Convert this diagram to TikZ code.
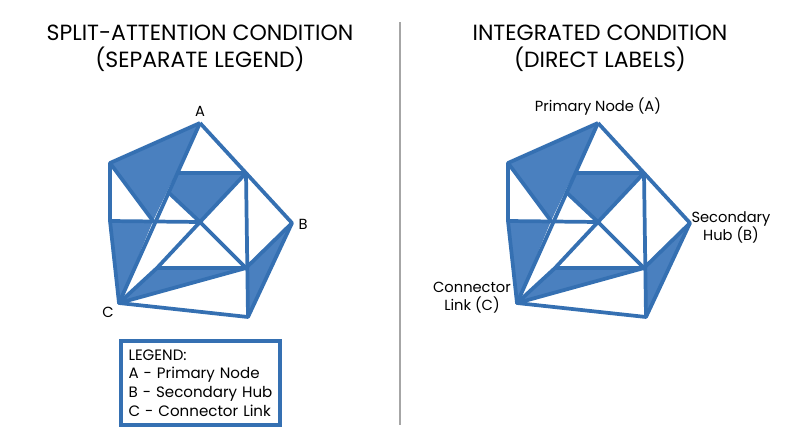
\documentclass[tikz,border=0pt]{standalone}
\usepackage{fontspec}
\setmainfont{Poppins}
\usepackage{tikz}
\usepackage{xcolor}
\definecolor{netblue}{HTML}{3570B2}
\definecolor{netfill}{HTML}{4A80BF}
\newcommand{\netpic}{%
  \coordinate (A) at (200,123);
  \coordinate (P) at (110,163);
  \coordinate (Q) at (177,173);
  \coordinate (R) at (246,173);
  \coordinate (B) at (292,223);
  \coordinate (L) at (110,221);
  \coordinate (X) at (153,221);
  \coordinate (M) at (200,222);
  \coordinate (S) at (168,192);
  \coordinate (T) at (157,268);
  \coordinate (U) at (246,268);
  \coordinate (C) at (119,303);
  \coordinate (D) at (248,317);
  \fill[netfill] (P) -- (A) -- (X) -- cycle;
  \fill[netfill] (Q) -- (R) -- (M) -- (S) -- cycle;
  \fill[netfill] (L) -- (X) -- (C) -- cycle;
  \fill[netfill] (C) -- (T) -- (U) -- cycle;
  \fill[netfill] (U) -- (B) -- (D) -- cycle;
  \draw[net] (A) -- (P) -- (L) -- (C) -- (D) -- (B) -- (R) -- (A);
  \draw[net] (A) -- (C);
  \draw[net] (P) -- (X);
  \draw[net] (L) -- (M);
  \draw[net] (Q) -- (R) -- (D);
  \draw[net] (S) -- (M) -- (U) -- (B);
  \draw[net] (R) -- (M) -- (T) -- (U) -- (C) -- (T);
}
\begin{document}
\begin{tikzpicture}[x=0.75pt,y=-0.75pt,
    net/.style={draw=netblue, line width=2.8pt, line join=round},
    title/.style={align=center, font=\fontsize{16.5}{20}\selectfont},
    lbl/.style={font=\fontsize{11}{13.5}\selectfont, inner sep=1pt}]
  \useasboundingbox (0,0) rectangle (800,447);
  \node[title] (lefttitle) at (200,48) {SPLIT-ATTENTION CONDITION\\(SEPARATE LEGEND)};
  \node[title] (righttitle) at (600,48) {INTEGRATED CONDITION\\(DIRECT LABELS)};
  \coordinate (divtop) at (400,22);
  \coordinate (divbot) at (400,425);
  \draw[gray!70, line width=1pt] (divtop) -- (divbot);
  % left network
  \netpic
  \node[lbl] (la) at (200,111) {A};
  \node[lbl] (lb) at (303,224) {B};
  \node[lbl] (lc) at (108,312) {C};
  \node[draw=netblue, line width=2.6pt, minimum width=119pt, minimum height=63pt,
        align=left, text width=108pt, font=\fontsize{11.3}{14}\selectfont] (legend) at (200.5,383)
        {LEGEND:\\A - Primary Node\\B - Secondary Hub\\C - Connector Link};
  % right network
  \begin{scope}[shift={(398,0)}]
    \netpic
    \node[lbl] (pa) at (200,107) {Primary Node (A)};
    \node[lbl, align=center] (pb) at (333,227) {Secondary\\Hub (B)};
    \node[lbl, align=center] (pc) at (74,298) {Connector\\Link (C)};
  \end{scope}
\end{tikzpicture}
\end{document}
